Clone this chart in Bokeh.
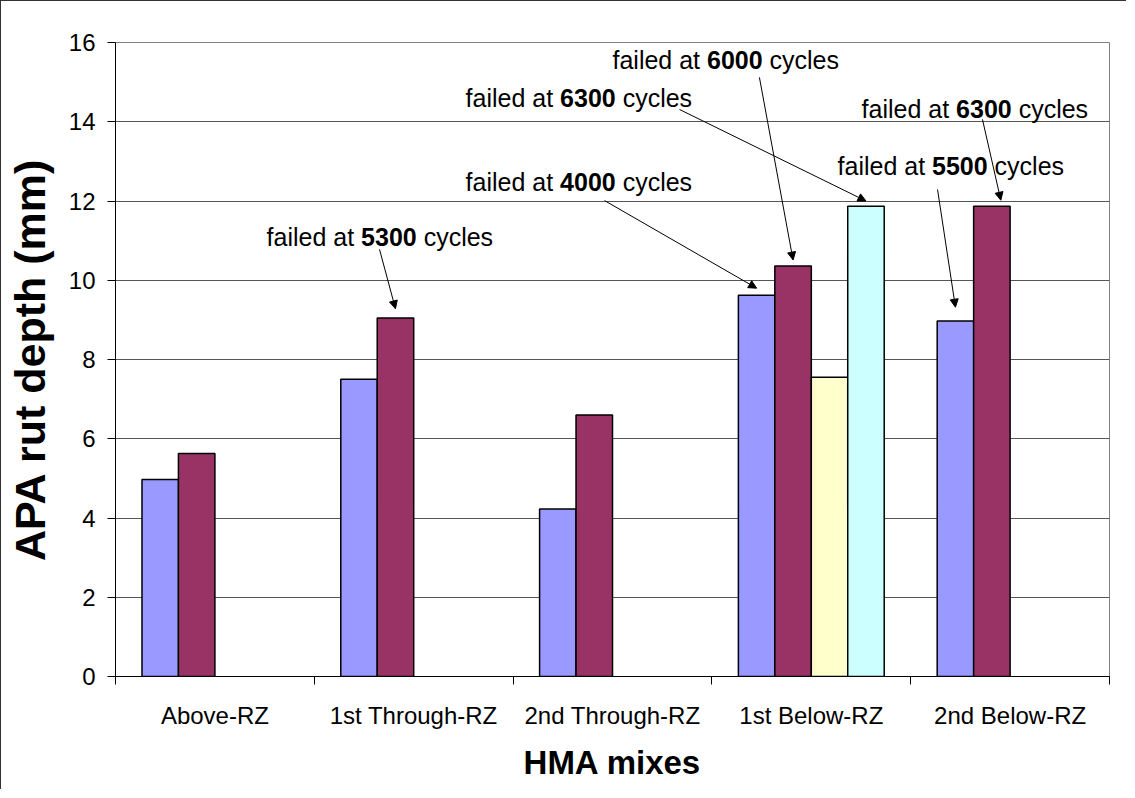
from bokeh.plotting import figure
from bokeh.models import Range1d, FixedTicker, Arrow, NormalHead, Label
from bokeh.embed import file_html
from bokeh.resources import INLINE

# ---------------- data ----------------
categories = ["Above-RZ", "1st Through-RZ", "2nd Through-RZ", "1st Below-RZ", "2nd Below-RZ"]
series_1 = [4.97, 7.50, 4.23, 9.62, 8.97]      # blue
series_2 = [5.63, 9.05, 6.60, 10.36, 11.87]    # maroon
series_3 = [None, None, None, 7.55, None]      # light yellow
series_4 = [None, None, None, 11.87, None]     # light cyan
y_ticks = [0, 2, 4, 6, 8, 10, 12, 14, 16]

# failure notes: cycles, category index, series index
fail_cycles = ["5300", "4000", "6300", "6000", "6300", "5500"]
fail_category = [1, 3, 3, 3, 4, 4]
fail_series = [1, 0, 3, 1, 1, 0]

series = [series_1, series_2, series_3, series_4]
colors = ["#9999FF", "#993366", "#FFFFCC", "#CCFFFF"]
offsets = [-0.275, -0.0917, 0.0917, 0.275]
bar_w = 0.1835

FONT = "Liberation Sans"

p = figure(width=1126, height=789, x_range=Range1d(0, 5), y_range=Range1d(0, 16),
           output_backend="svg", toolbar_location=None,
           min_border_left=114, min_border_right=18, min_border_top=41, min_border_bottom=114)
p.styles = {"border-left": "1px solid #333333", "border-top": "1px solid #333333"}
p.background_fill_color = "white"
p.border_fill_color = "white"
p.outline_line_color = "#808080"
p.outline_line_width = 1

for k, vals in enumerate(series):
    xs = [i + 0.5 + offsets[k] for i, v in enumerate(vals) if v is not None]
    tops = [v for v in vals if v is not None]
    p.vbar(x=xs, top=tops, bottom=0, width=bar_w, fill_color=colors[k],
           line_color="black", line_width=1.5)

# grid
p.xgrid.visible = False
p.ygrid.ticker = FixedTicker(ticks=y_ticks)
p.ygrid.grid_line_color = "#555555"
p.ygrid.grid_line_width = 1

# y axis
ya = p.yaxis[0]
ya.ticker = FixedTicker(ticks=y_ticks)
ya.axis_line_color = "black"
ya.major_tick_out = 8
ya.major_tick_in = 0
ya.minor_tick_line_color = None
ya.major_label_text_font = FONT
ya.major_label_text_font_size = "24px"
ya.major_label_text_color = "black"
ya.major_label_standoff = 12
ya.axis_label = "APA rut depth (mm)"
ya.axis_label_text_font = FONT
ya.axis_label_text_font_style = "bold"
ya.axis_label_text_font_size = "43px"
ya.axis_label_text_color = "black"
ya.axis_label_standoff = 12

# x axis: labels at category centres, ticks at boundaries
xa = p.xaxis[0]
centres = [i + 0.5 for i in range(len(categories))]
bounds = [float(i) for i in range(len(categories) + 1)]
xa.ticker = FixedTicker(ticks=centres, minor_ticks=bounds)
xa.major_label_overrides = {c: name for c, name in zip(centres, categories)}
xa.major_tick_line_color = None
xa.major_tick_out = 0
xa.major_tick_in = 0
xa.minor_tick_out = 8
xa.minor_tick_in = 0
xa.minor_tick_line_color = "black"
xa.axis_line_color = "black"
xa.major_label_text_font = FONT
xa.major_label_text_font_size = "24px"
xa.major_label_text_color = "black"
xa.major_label_standoff = 17
xa.axis_label = "HMA mixes"
xa.axis_label_text_font = FONT
xa.axis_label_text_font_style = "bold"
xa.axis_label_text_font_size = "33px"
xa.axis_label_text_color = "black"
xa.axis_label_standoff = 12

# ---------------- annotations ----------------
fs = 25
w_pre = 3.780 * fs
w_num = 2.224 * fs
w_sp = 0.278 * fs
text_pos = [(0.760, 11.08), (1.761, 12.47), (1.761, 14.61), (2.500, 15.55), (3.753, 14.33), (3.632, 12.89)]
arrow_start = [(1.328, 10.78), (2.460, 12.01), (2.837, 14.31), (3.239, 15.12), (4.361, 14.06), (4.135, 12.29)]
end_dx = [0.0, 0.0, 0.0, 0.0, 0.045, 0.0]
end_dy = [0.23, 0.18, 0.13, 0.15, 0.15, 0.35]

for n in range(len(fail_cycles)):
    tx, ty = text_pos[n]
    for txt, off, style in [("failed at", 0, "normal"), (fail_cycles[n], w_pre, "bold"),
                            ("cycles", w_pre + w_num + w_sp, "normal")]:
        p.add_layout(Label(x=tx, y=ty, x_offset=off, text=txt, text_font=FONT,
                           text_font_size=f"{fs}px", text_font_style=style,
                           text_color="black", text_align="left", text_baseline="alphabetic"))
    c, s = fail_category[n], fail_series[n]
    ex = c + 0.5 + offsets[s] + end_dx[n]
    ey = series[s][c] + end_dy[n]
    sx, sy = arrow_start[n]
    p.add_layout(Arrow(x_start=sx, y_start=sy, x_end=ex, y_end=ey, line_color="black", line_width=1,
                       end=NormalHead(size=8, fill_color="black", line_color="black", line_width=1)))

open("out.html", "w").write(file_html(p, INLINE))
